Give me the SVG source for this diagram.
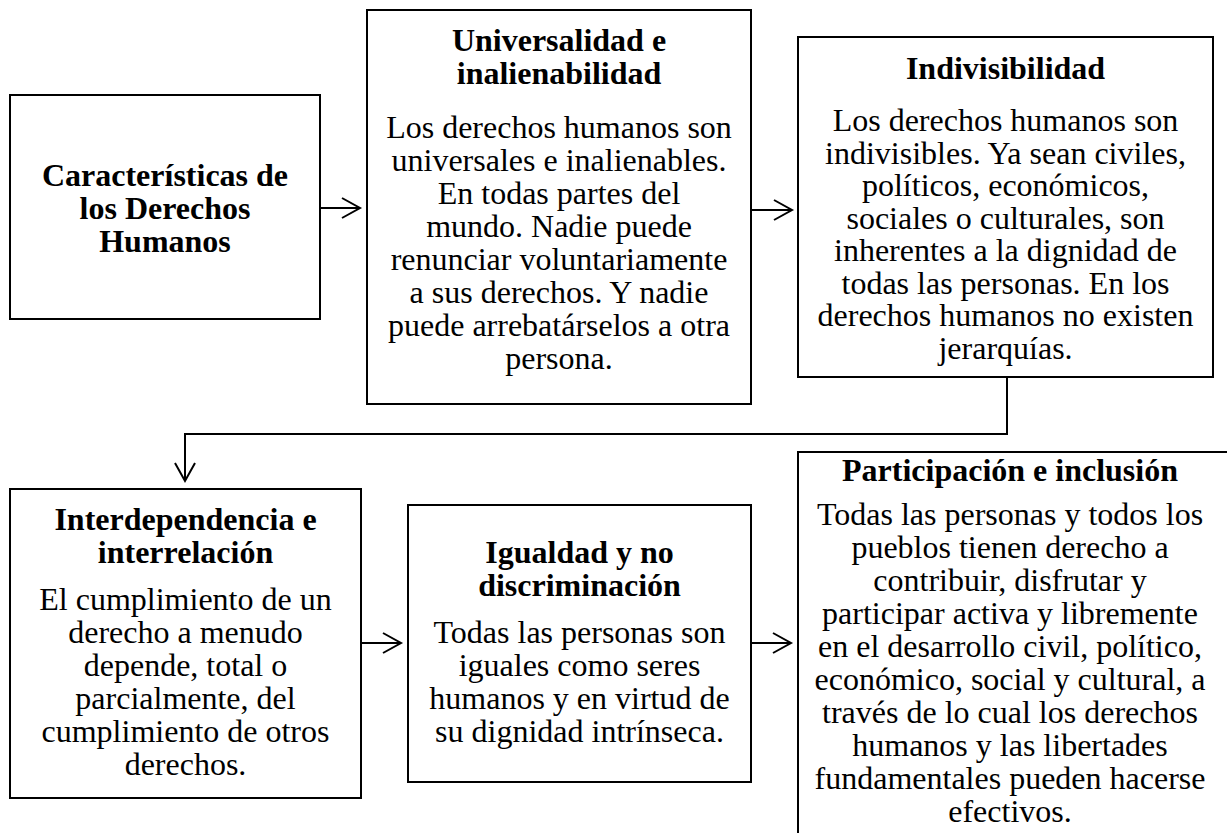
<svg xmlns="http://www.w3.org/2000/svg" width="1227" height="833" viewBox="0 0 1227 833">
<defs>
<style>
.box{fill:#fff;stroke:#000;stroke-width:2}
.t{font-family:"Liberation Serif","Times New Roman",serif;font-size:32px;font-weight:bold;text-anchor:middle;fill:#000}
.b{font-family:"Liberation Serif","Times New Roman",serif;font-size:32px;text-anchor:middle;fill:#000}
.c{fill:none;stroke:#000;stroke-width:2}
</style>
<marker id="ah" markerUnits="userSpaceOnUse" markerWidth="24" markerHeight="24" viewBox="-20 -12 24 24" refX="0" refY="0" orient="auto">
<path d="M-18,-10 L0,0 L-18,10" fill="none" stroke="#000" stroke-width="2"/>
</marker>
</defs>
<rect width="1227" height="833" fill="#fff"/>
<g id="connectors">
<path class="c" d="M320,208 H360" marker-end="url(#ah)"/>
<path class="c" d="M751,210 H792" marker-end="url(#ah)"/>
<path class="c" d="M1007,377 V434 H185 V481" marker-end="url(#ah)"/>
<path class="c" d="M361,643 H401" marker-end="url(#ah)"/>
<path class="c" d="M751,643 H791" marker-end="url(#ah)"/>
</g>
<g id="n1">
<rect class="box" x="10" y="95" width="310" height="224"/>
<text class="t" x="165" y="186">Características de</text>
<text class="t" x="165" y="219">los Derechos</text>
<text class="t" x="165" y="252">Humanos</text>
</g>
<g id="n2">
<rect class="box" x="367" y="10" width="384" height="394"/>
<text class="t" x="559" y="51">Universalidad e</text>
<text class="t" x="559" y="84">inalienabilidad</text>
<text class="b" x="559" y="138">Los derechos humanos son</text>
<text class="b" x="559" y="171">universales e inalienables.</text>
<text class="b" x="559" y="204">En todas partes del</text>
<text class="b" x="559" y="237">mundo. Nadie puede</text>
<text class="b" x="559" y="270">renunciar voluntariamente</text>
<text class="b" x="559" y="303">a sus derechos. Y nadie</text>
<text class="b" x="559" y="336">puede arrebatárselos a otra</text>
<text class="b" x="559" y="369">persona.</text>
</g>
<g id="n3">
<rect class="box" x="798" y="37" width="415" height="340"/>
<text class="t" x="1005.5" y="79">Indivisibilidad</text>
<text class="b" x="1005.5" y="131">Los derechos humanos son</text>
<text class="b" x="1005.5" y="163.5">indivisibles. Ya sean civiles,</text>
<text class="b" x="1005.5" y="196">políticos, económicos,</text>
<text class="b" x="1005.5" y="228.5">sociales o culturales, son</text>
<text class="b" x="1005.5" y="261">inherentes a la dignidad de</text>
<text class="b" x="1005.5" y="293.5">todas las personas. En los</text>
<text class="b" x="1005.5" y="326">derechos humanos no existen</text>
<text class="b" x="1005.5" y="358.5">jerarquías.</text>
</g>
<g id="n4">
<rect class="box" x="10" y="489" width="351" height="309"/>
<text class="t" x="185.5" y="530">Interdependencia e</text>
<text class="t" x="185.5" y="563">interrelación</text>
<text class="b" x="185.5" y="610">El cumplimiento de un</text>
<text class="b" x="185.5" y="643">derecho a menudo</text>
<text class="b" x="185.5" y="676">depende, total o</text>
<text class="b" x="185.5" y="709">parcialmente, del</text>
<text class="b" x="185.5" y="742">cumplimiento de otros</text>
<text class="b" x="185.5" y="775">derechos.</text>
</g>
<g id="n5">
<rect class="box" x="408" y="505" width="343" height="277"/>
<text class="t" x="579.5" y="563">Igualdad y no</text>
<text class="t" x="579.5" y="596">discriminación</text>
<text class="b" x="579.5" y="643">Todas las personas son</text>
<text class="b" x="579.5" y="676">iguales como seres</text>
<text class="b" x="579.5" y="709">humanos y en virtud de</text>
<text class="b" x="579.5" y="742">su dignidad intrínseca.</text>
</g>
<g id="n6">
<rect class="box" x="798" y="452" width="450" height="400"/>
<text class="t" x="1010" y="481">Participación e inclusión</text>
<text class="b" x="1010" y="525">Todas las personas y todos los</text>
<text class="b" x="1010" y="558">pueblos tienen derecho a</text>
<text class="b" x="1010" y="591">contribuir, disfrutar y</text>
<text class="b" x="1010" y="624">participar activa y libremente</text>
<text class="b" x="1010" y="657">en el desarrollo civil, político,</text>
<text class="b" x="1010" y="690">económico, social y cultural, a</text>
<text class="b" x="1010" y="723">través de lo cual los derechos</text>
<text class="b" x="1010" y="756">humanos y las libertades</text>
<text class="b" x="1010" y="789">fundamentales pueden hacerse</text>
<text class="b" x="1010" y="822">efectivos.</text>
</g>
</svg>
